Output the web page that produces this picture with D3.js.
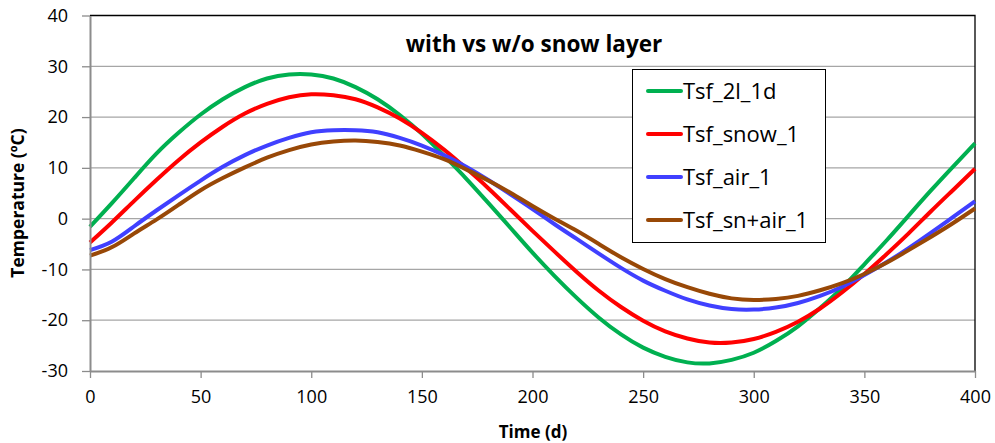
<!DOCTYPE html>
<html>
<head>
<meta charset="utf-8">
<script src="https://cdn.jsdelivr.net/npm/d3@7"></script>
<style>
  body { margin: 0; background: #fff; }
  svg { font-family: "Open Sans", sans-serif; }
</style>
</head>
<body>
<svg id="chart" width="995" height="443"></svg>
<script>
// days, every 10 d
var days = d3.range(0, 401, 10);

var seriesNames = ["Tsf_2l_1d", "Tsf_snow_1", "Tsf_air_1", "Tsf_sn+air_1"];
var seriesColors = ["#00B050", "#FF0000", "#4040FF", "#984807"];

var tsf2l = [-1.6, 3.1, 8.0, 12.8, 16.9, 20.5, 23.5, 25.9, 27.6, 28.4,
  28.4, 27.6, 25.9, 23.5, 20.4, 16.7, 12.4, 7.9, 3.1, -1.8,
  -6.7, -11.3, -15.6, -19.5, -22.8, -25.4, -27.2, -28.3, -28.5, -27.8,
  -26.4, -24.1, -21.2, -17.6, -13.6, -9.0, -4.3, 0.6, 5.5, 10.2, 14.8];
var tsfSnow = [-4.7, -0.7, 3.5, 7.6, 11.5, 15.0, 18.1, 20.7, 22.6, 23.9,
  24.5, 24.3, 23.5, 21.9, 19.7, 16.9, 13.6, 9.9, 6.0, 1.8,
  -2.4, -6.5, -10.5, -14.2, -17.4, -20.1, -22.2, -23.6, -24.4, -24.4,
  -23.7, -22.3, -20.3, -17.7, -14.5, -10.9, -7.0, -2.9, 1.4, 5.6, 9.8];
var tsfAir = [-6.2, -4.5, -1.5, 1.6, 4.6, 7.5, 10.2, 12.5, 14.4, 15.9,
  17.0, 17.4, 17.4, 17.0, 15.9, 14.4, 12.5, 10.2, 7.6, 4.8,
  1.9, -1.1, -4.0, -6.9, -9.7, -12.2, -14.2, -15.9, -17.1, -17.8,
  -17.9, -17.5, -16.6, -15.2, -13.4, -11.1, -8.6, -5.8, -2.8, 0.3, 3.4];
var tsfSnAir = [-7.3, -5.6, -2.9, -0.2, 2.7, 5.6, 8.0, 10.1, 12.0, 13.5,
  14.6, 15.2, 15.4, 15.1, 14.4, 13.2, 11.7, 9.7, 7.5, 5.1,
  2.5, 0.0, -2.4, -5.0, -7.6, -9.9, -11.9, -13.5, -14.8, -15.7,
  -16.0, -15.8, -15.2, -14.1, -12.7, -10.9, -8.7, -6.2, -3.6, -0.9, 2.0];

var xTicks = [0, 50, 100, 150, 200, 250, 300, 350, 400];
var yTicks = [-30, -20, -10, 0, 10, 20, 30, 40];

var margin = {left: 90, top: 15.5, right: 20, bottom: 72};
var width = 995, height = 443;

var svg = d3.select("#chart");

var x = d3.scaleLinear().domain([0, 400]).range([margin.left, width - margin.right]);
var y = d3.scaleLinear().domain([-30, 40]).range([height - margin.bottom, margin.top]);

// grid lines
svg.append("g")
    .selectAll("line")
    .data(yTicks.filter(function(d) { return d > -30 && d < 40; }))
    .join("line")
    .attr("x1", x(0))
    .attr("x2", x(400))
    .attr("y1", function(d) { return y(d); })
    .attr("y2", function(d) { return y(d); })
    .attr("stroke", "#a6a6a6")
    .attr("stroke-width", 1.2);

// top and right border
svg.append("path")
    .attr("d", "M" + x(0) + "," + y(40) + "H" + x(400) + "V" + y(-30))
    .attr("fill", "none")
    .attr("stroke", "#000")
    .attr("stroke-width", 1.3);

// series
var series = [tsf2l, tsfSnow, tsfAir, tsfSnAir];
var line = d3.line()
    .x(function(d, i) { return x(days[i]); })
    .y(function(d) { return y(d); })
    .curve(d3.curveNatural);

series.forEach(function(values, k) {
  svg.append("path")
      .attr("d", line(values))
      .attr("fill", "none")
      .attr("stroke", seriesColors[k])
      .attr("stroke-width", 4);
});

// axes
var fmt = function(d) { return String(d); };
var yAxis = svg.append("g")
    .attr("transform", "translate(" + x(0) + ",0)")
    .call(d3.axisLeft(y).tickValues(yTicks).tickFormat(fmt).tickSize(8).tickPadding(14).tickSizeOuter(0));
var xAxis = svg.append("g")
    .attr("transform", "translate(0," + y(-30) + ")")
    .call(d3.axisBottom(x).tickValues(xTicks).tickFormat(fmt).tickSize(7).tickPadding(12).tickSizeOuter(0));

[yAxis, xAxis].forEach(function(g) {
  g.select(".domain").attr("stroke", "#8c8c8c").attr("stroke-width", 2);
  g.selectAll(".tick line").attr("stroke", "#8c8c8c").attr("stroke-width", 1.3);
  g.selectAll(".tick text")
      .attr("font-family", "'Open Sans', sans-serif")
      .attr("font-size", 18)
      .attr("fill", "#000");
});

// titles
svg.append("text")
    .attr("x", 534)
    .attr("y", 52)
    .attr("text-anchor", "middle")
    .attr("font-size", 22.5)
    .attr("font-weight", "bold")
    .text("with vs w/o snow layer");

svg.append("text")
    .attr("x", 533)
    .attr("y", 438)
    .attr("text-anchor", "middle")
    .attr("font-size", 17)
    .attr("font-weight", "bold")
    .text("Time (d)");

svg.append("text")
    .attr("transform", "translate(24,203) rotate(-90)")
    .attr("text-anchor", "middle")
    .attr("font-size", 17.5)
    .attr("font-weight", "bold")
    .text("Temperature (ºC)");

// legend
var legend = svg.append("g").attr("transform", "translate(632,69)");
legend.append("rect")
    .attr("x", 0.5)
    .attr("y", 0.5)
    .attr("width", 193)
    .attr("height", 173)
    .attr("fill", "#fff")
    .attr("stroke", "#000")
    .attr("stroke-width", 1);

var item = legend.selectAll("g.item")
    .data(seriesNames)
    .join("g")
    .attr("class", "item")
    .attr("transform", function(d, i) { return "translate(0," + (22 + i * 43) + ")"; });
item.append("line")
    .attr("x1", 16)
    .attr("x2", 49)
    .attr("stroke", function(d, i) { return seriesColors[i]; })
    .attr("stroke-width", 4)
    .attr("stroke-linecap", "round");
item.append("text")
    .attr("x", 51)
    .attr("dy", "0.36em")
    .attr("font-size", 22)
    .text(function(d) { return d; });
</script>
</body>
</html>
